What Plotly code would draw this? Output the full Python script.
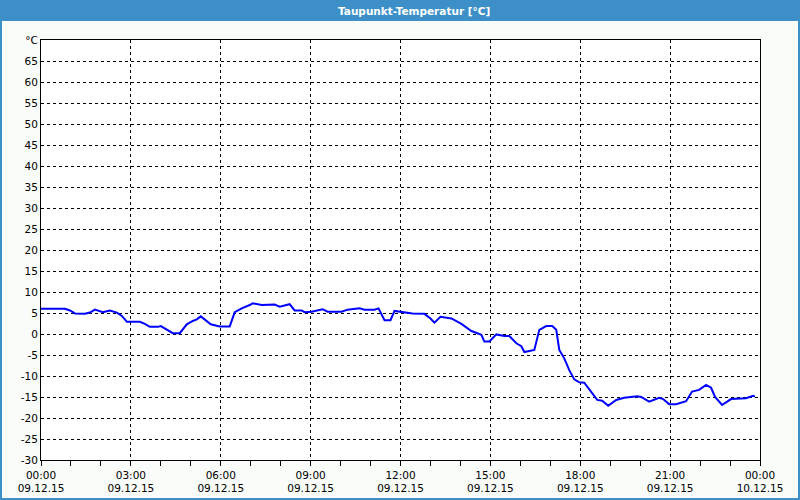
import plotly.graph_objects as go

# Data (time of day on 09.12.15, dew point in °C)
times = ["00:00","00:48","00:58","01:08","01:28","01:38","01:48","02:04","02:18","02:32",
         "02:42","02:52","03:18","03:28","03:38","03:54","04:00","04:12","04:24","04:38",
         "04:46","04:52","05:04","05:12","05:20","05:30","05:40","05:58","06:18","06:28",
         "06:42","06:58","07:04","07:22","07:48","07:58","08:18","08:28","08:42","08:48",
         "09:02","09:24","09:34","10:02","10:14","10:38","10:48","11:08","11:16","11:28",
         "11:40","11:48","12:08","12:24","12:48","13:00","13:08","13:20","13:42","14:02",
         "14:22","14:42","14:48","14:58","15:12","15:28","15:38","15:52","16:02","16:08",
         "16:28","16:38","16:52","17:04","17:12","17:18","17:28","17:38","17:48","17:58",
         "18:08","18:22","18:34","18:44","18:56","19:12","19:28","19:54","20:02","20:18",
         "20:38","20:46","20:58","21:12","21:32","21:44","21:58","22:12","22:22","22:30",
         "22:44","23:02","23:32","23:46","23:50"]
dewpoint = [6.0, 6.0, 5.6, 4.9, 4.8, 5.1, 5.8, 5.2, 5.6, 5.1,
            4.3, 2.9, 2.9, 2.4, 1.7, 1.7, 1.9, 1.0, 0.2, 0.2,
            1.5, 2.3, 3.1, 3.5, 4.2, 3.3, 2.3, 1.8, 1.8, 5.2,
            6.1, 6.9, 7.3, 6.9, 7.0, 6.5, 7.1, 5.6, 5.6, 5.2,
            5.3, 5.9, 5.3, 5.3, 5.8, 6.1, 5.8, 5.8, 6.1, 3.3,
            3.3, 5.5, 5.2, 4.9, 4.8, 3.7, 2.7, 4.1, 3.7, 2.4,
            0.7, -0.2, -1.8, -1.8, -0.1, -0.5, -0.5, -2.2, -2.9, -4.3,
            -3.8, 1.0, 1.9, 1.9, 1.0, -3.8, -5.8, -8.6, -10.8, -11.5,
            -11.6, -13.7, -15.7, -15.9, -17.1, -15.7, -15.2, -14.8, -15.0, -16.1,
            -15.2, -15.5, -16.7, -16.7, -16.0, -13.7, -13.3, -12.1, -12.8, -15.0,
            -16.9, -15.5, -15.3, -14.7, -14.9]

x_tick_vals = ["2015-12-09 00:00", "2015-12-09 03:00", "2015-12-09 06:00", "2015-12-09 09:00",
               "2015-12-09 12:00", "2015-12-09 15:00", "2015-12-09 18:00", "2015-12-09 21:00",
               "2015-12-10 00:00"]
x_tick_text = ["00:00<br>09.12.15", "03:00<br>09.12.15", "06:00<br>09.12.15", "09:00<br>09.12.15",
               "12:00<br>09.12.15", "15:00<br>09.12.15", "18:00<br>09.12.15", "21:00<br>09.12.15",
               "00:00<br>10.12.15"]
y_tick_vals = list(range(-30, 75, 5))
y_tick_text = [str(v) for v in range(-30, 70, 5)] + ["°C"]

title = "Taupunkt-Temperatur [°C]"

x = ["2015-12-09 " + t for t in times]

FONT = "DejaVu Sans"
BLUE = "#3d8fc7"
L, R, T, B = 41, 40, 40, 40
W, H = 800, 500
pw = W - L - R
ph = H - T - B


def px_x(p):
    return (p - L) / pw


def px_y(p):
    return (H - B - p) / ph


fig = go.Figure()
fig.add_trace(go.Scatter(x=x, y=dewpoint, mode="lines",
                         line=dict(color="#0000ff", width=2), hoverinfo="skip"))

fig.update_layout(
    width=W, height=H,
    margin=dict(l=L, r=R, t=T, b=B, autoexpand=False),
    paper_bgcolor="#f9fcf9",
    plot_bgcolor="#ffffff",
    showlegend=False,
    font=dict(family=FONT, size=10, color="#000000"),
    shapes=[
        dict(type="rect", xref="paper", yref="paper",
             x0=px_x(1), x1=px_x(799), y0=px_y(499), y1=px_y(1),
             fillcolor="rgba(0,0,0,0)", line=dict(color=BLUE, width=2), layer="above"),
    ],
)

# blue title bar
fig.add_annotation(xref="paper", yref="paper", x=px_x(400), y=px_y(10.5),
                   text=" ", showarrow=False,
                   width=800, height=21, bgcolor=BLUE, borderpad=0, borderwidth=0,
                   xanchor="center", yanchor="middle")
# title text
fig.add_annotation(xref="paper", yref="paper", x=px_x(414), y=px_y(10.5),
                   text="<b>" + title + "</b>", showarrow=False,
                   font=dict(family=FONT, size=10.5, color="#ffffff"),
                   xanchor="center", yanchor="middle", align="center")

fig.update_xaxes(
    range=["2015-12-09 00:00", "2015-12-10 00:00"],
    tickmode="array", tickvals=x_tick_vals, ticktext=x_tick_text,
    ticks="outside", ticklen=5, tickcolor="#000000",
    showgrid=True, gridcolor="#000000", griddash="3px,3px", gridwidth=1,
    showline=True, linecolor="#000000", linewidth=1, mirror=True,
    minor=dict(dtick=3600000, ticks="outside", ticklen=5, tickcolor="#000000", showgrid=False),
    zeroline=False, automargin=False, tickfont=dict(family=FONT, size=10.5),
)
fig.update_yaxes(
    range=[-30, 70],
    tickmode="array", tickvals=y_tick_vals, ticktext=y_tick_text,
    ticks="", showgrid=True, gridcolor="#000000", griddash="3px,3px", gridwidth=1,
    showline=True, linecolor="#000000", linewidth=1, mirror=True,
    zeroline=False, automargin=False, tickfont=dict(family=FONT, size=10.5),
)

fig.write_html("out.html",
               config={"displayModeBar": False, "staticPlot": True},
               post_script="document.body.style.margin='0';document.body.style.padding='0';"
                           "document.body.style.overflow='hidden';")
